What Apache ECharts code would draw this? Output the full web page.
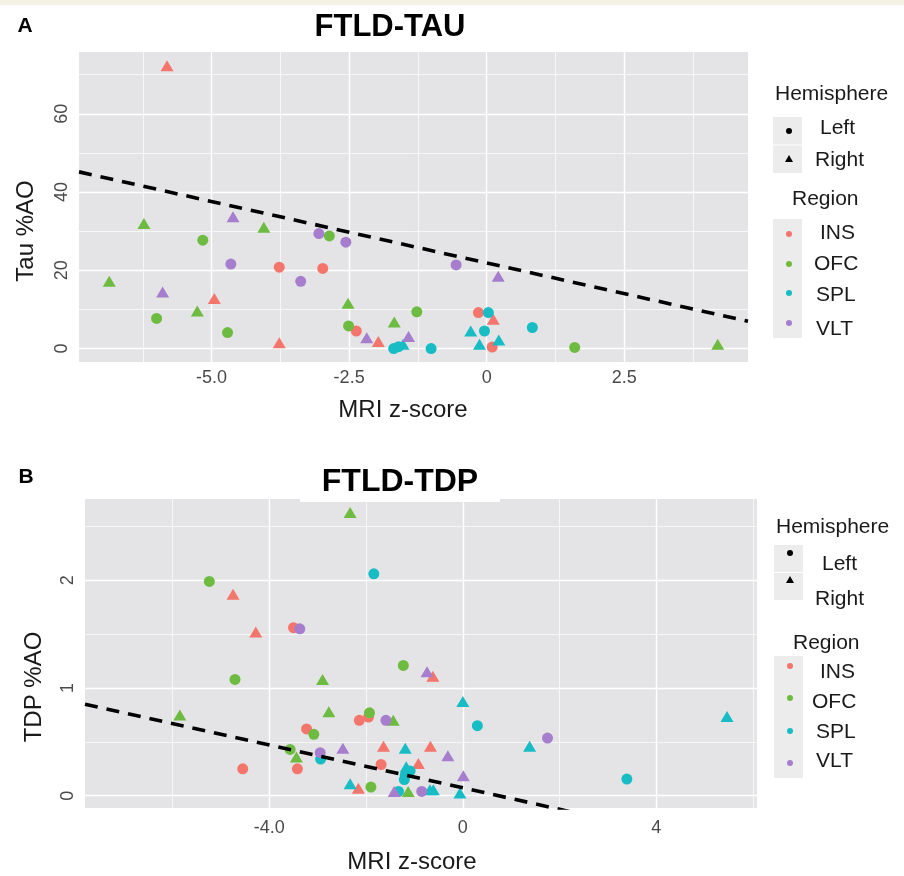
<!DOCTYPE html>
<html>
<head>
<meta charset="utf-8">
<script src="https://cdn.jsdelivr.net/npm/echarts@6/dist/echarts.min.js"></script>
<style>html,body{margin:0;padding:0;background:#fff;}#c{width:904px;height:876px;}</style>
</head>
<body>
<div id="c"></div>
<script>
// ---------------- DATA ----------------
const regions = ['INS', 'OFC', 'SPL', 'VLT'];
const hemispheres = ['Left', 'Right'];
const regionColors = ['#F3756C', '#6EBB41', '#17BCC5', '#A67ECD'];

// Panel A: FTLD-TAU  [MRI z-score, Tau %AO]
const tauINS_L = [[-3.77,20.8],[-2.98,20.5],[-2.37,4.5],[-0.15,9.2],[0.10,0.4]];
const tauINS_R = [[-5.81,72.3],[-4.95,12.8],[-3.77,1.5],[-1.97,1.8],[0.12,7.5]];
const tauOFC_L = [[-5.16,27.7],[-2.86,28.8],[-6.00,7.7],[-4.71,4.1],[-2.51,5.8],[-1.27,9.4],[1.60,0.3]];
const tauOFC_R = [[-6.23,32.0],[-4.05,31.0],[-6.86,17.2],[-5.26,9.6],[-2.52,11.6],[-1.68,6.8],[4.20,1.1]];
const tauSPL_L = [[-1.69,0.0],[-1.60,0.5],[-1.01,0.0],[0.03,9.2],[-0.04,4.5],[0.83,5.4]];
const tauSPL_R = [[-1.52,1.1],[-0.29,4.5],[-0.13,1.1],[0.22,2.2]];
const tauVLT_L = [[-3.05,29.4],[-2.56,27.2],[-4.65,21.6],[-3.38,17.2],[-0.555,21.4]];
const tauVLT_R = [[-4.61,33.7],[-5.89,14.5],[-2.18,2.8],[-1.42,3.1],[0.21,18.5]];
const tauFit = {intercept: 21.9, slope: -3.14};

// Panel B: FTLD-TDP  [MRI z-score, TDP %AO]
const tdpINS_L = [[-3.50,1.56],[-1.95,0.73],[-2.14,0.70],[-3.23,0.62],[-4.55,0.25],[-3.42,0.25],[-1.69,0.29]];
const tdpINS_R = [[-4.75,1.87],[-4.28,1.52],[-0.62,1.11],[-1.64,0.46],[-0.67,0.46],[-0.92,0.30],[-2.16,0.07]];
const tdpOFC_L = [[-5.24,1.99],[-1.23,1.21],[-4.71,1.08],[-1.93,0.77],[-3.08,0.57],[-3.57,0.43],[-1.90,0.08]];
const tdpOFC_R = [[-2.33,2.63],[-2.90,1.08],[-5.85,0.75],[-2.77,0.78],[-1.44,0.70],[-3.44,0.36],[-1.13,0.04]];
const tdpSPL_L = [[-1.84,2.06],[0.30,0.65],[-2.94,0.34],[-1.09,0.23],[-1.19,0.19],[-1.21,0.15],[-1.33,0.04],[3.39,0.155]];
const tdpSPL_R = [[0.00,0.875],[-1.19,0.44],[1.38,0.46],[5.46,0.736],[-2.33,0.11],[-1.17,0.27],[-0.68,0.056],[-0.61,0.056],[-0.06,0.025]];
const tdpVLT_L = [[-3.37,1.55],[-1.59,0.70],[-2.95,0.40],[-0.85,0.04],[1.75,0.535]];
const tdpVLT_R = [[-0.74,1.15],[-2.48,0.44],[-0.31,0.37],[0.01,0.185],[-1.42,0.04]];
const tdpFit = {intercept: 0.073, slope: -0.0995};

// Axis ranges, ticks and tick labels
const tauXRange = [-7.41, 4.75];
const tauYRange = [-3.42, 75.8];
const tauXTicks = [-5, -2.5, 0, 2.5];
const tauXTickLabels = ['-5.0', '-2.5', '0', '2.5'];
const tauXMinor = [-6.25, -3.75, -1.25, 1.25, 3.75];
const tauYTicks = [0, 20, 40, 60];
const tauYTickLabels = ['0', '20', '40', '60'];
const tauYMinor = [10, 30, 50, 70];

const tdpXRange = [-7.81, 6.08];
const tdpYRange = [-0.114, 2.755];
const tdpXTicks = [-4, 0, 4];
const tdpXTickLabels = ['-4.0', '0', '4'];
const tdpXMinor = [-6, -2, 2, 6];
const tdpYTicks = [0, 1, 2];
const tdpYTickLabels = ['0', '1', '2'];
const tdpYMinor = [0.5, 1.5, 2.5];

// ---------------- CHART ----------------
const FONT = "'Liberation Sans', Arial, Helvetica, sans-serif";
const PANEL_BG = '#E4E4E6';
const tauSets = {INS: [tauINS_L, tauINS_R], OFC: [tauOFC_L, tauOFC_R], SPL: [tauSPL_L, tauSPL_R], VLT: [tauVLT_L, tauVLT_R]};
const tdpSets = {INS: [tdpINS_L, tdpINS_R], OFC: [tdpOFC_L, tdpOFC_R], SPL: [tdpSPL_L, tdpSPL_R], VLT: [tdpVLT_L, tdpVLT_R]};

function labelFor(ticks, labels) {
  return function (v) {
    for (let i = 0; i < ticks.length; i++) if (Math.abs(ticks[i] - v) < 1e-9) return labels[i];
    return '';
  };
}

function xAxisDef(idx, range, ticks, labels, margin) {
  return {
    type: 'value', gridIndex: idx, min: range[0], max: range[1],
    axisLine: {show: false},
    axisTick: {show: true, customValues: ticks, length: 3, lineStyle: {color: '#999'}},
    axisLabel: {customValues: ticks, formatter: labelFor(ticks, labels), fontFamily: FONT, fontSize: 18, color: '#4a4a4a', margin: margin},
    splitLine: {show: false}
  };
}
function yAxisDef(idx, range, ticks, labels) {
  return {
    type: 'value', gridIndex: idx, min: range[0], max: range[1],
    axisLine: {show: false},
    axisTick: {show: true, customValues: ticks, length: 3, lineStyle: {color: '#999'}},
    axisLabel: {customValues: ticks, formatter: labelFor(ticks, labels), rotate: 90, fontFamily: FONT, fontSize: 18, color: '#4a4a4a', margin: 8},
    splitLine: {show: false}
  };
}

function gridSeries(idx, xMaj, xMin, yMaj, yMin) {
  const d = [];
  xMin.forEach(v => d.push({xAxis: v, lineStyle: {width: 0.7}}));
  yMin.forEach(v => d.push({yAxis: v, lineStyle: {width: 0.7}}));
  xMaj.forEach(v => d.push({xAxis: v, lineStyle: {width: 1.4}}));
  yMaj.forEach(v => d.push({yAxis: v, lineStyle: {width: 1.4}}));
  return {
    type: 'scatter', xAxisIndex: idx, yAxisIndex: idx, data: [], z: 1, silent: true,
    markLine: {z: 1, silent: true, symbol: ['none', 'none'], label: {show: false}, animation: false,
      lineStyle: {color: '#FFFFFF', type: 'solid', opacity: 1}, emphasis: {disabled: true}, data: d}
  };
}

function pointSeries(idx, sets) {
  const out = [];
  regions.forEach((r, ri) => {
    hemispheres.forEach((h, hi) => {
      out.push({
        type: 'scatter', name: r + ' ' + h, xAxisIndex: idx, yAxisIndex: idx, z: 3,
        symbol: hi === 0 ? 'circle' : 'triangle',
        symbolSize: hi === 0 ? 11 : [13, 11],
        itemStyle: {color: regionColors[ri], opacity: 1},
        data: sets[r][hi]
      });
    });
  });
  return out;
}

function fitSeries(idx, fit, xr) {
  return {
    type: 'line', xAxisIndex: idx, yAxisIndex: idx, z: 4, clip: true, silent: true,
    symbol: 'none', animation: false,
    lineStyle: {color: '#000', width: 3.6, type: [13, 9]},
    data: [[xr[0], fit.intercept + fit.slope * xr[0]], [xr[1], fit.intercept + fit.slope * xr[1]]]
  };
}

// Legend graphics (ggplot-style)
function legendGraphics(cfg) {
  const els = [];
  const txt = (t, x, y, align) => ({type: 'text', z: 50, style: {text: t, x: x, y: y, fill: '#1a1a1a', fontFamily: FONT, fontSize: 21, textAlign: align || 'left', textVerticalAlign: 'middle'}});
  els.push(txt('Hemisphere', cfg.hemiTitle[0], cfg.hemiTitle[1]));
  els.push({type: 'rect', z: 40, shape: {x: cfg.keyX, y: cfg.hemiBox[0], width: 29, height: cfg.hemiBox[1] - cfg.hemiBox[0]}, style: {fill: '#ECECEC'}});
  els.push({type: 'line', z: 41, shape: {x1: cfg.keyX, y1: (cfg.hemiBox[0] + cfg.hemiBox[1]) / 2, x2: cfg.keyX + 29, y2: (cfg.hemiBox[0] + cfg.hemiBox[1]) / 2}, style: {stroke: '#fff', lineWidth: 1}});
  els.push({type: 'circle', z: 45, shape: {cx: cfg.keyX + 16, cy: cfg.hemiIcons[0], r: 3}, style: {fill: '#000'}});
  els.push({type: 'polygon', z: 45, shape: {points: [[cfg.keyX + 16, cfg.hemiIcons[1] - 4], [cfg.keyX + 20, cfg.hemiIcons[1] + 3], [cfg.keyX + 12, cfg.hemiIcons[1] + 3]]}, style: {fill: '#000'}});
  els.push(txt(hemispheres[0], cfg.hemiLabels[0][0], cfg.hemiLabels[0][1]));
  els.push(txt(hemispheres[1], cfg.hemiLabels[1][0], cfg.hemiLabels[1][1]));
  els.push(txt('Region', cfg.regTitle[0], cfg.regTitle[1]));
  els.push({type: 'rect', z: 40, shape: {x: cfg.keyX, y: cfg.regBox[0], width: 29, height: cfg.regBox[1] - cfg.regBox[0]}, style: {fill: '#ECECEC'}});
  regions.forEach((r, i) => {
    els.push({type: 'circle', z: 45, shape: {cx: cfg.keyX + 16, cy: cfg.regIcons[i], r: 3}, style: {fill: regionColors[i]}});
    els.push(txt(r, cfg.regLabels[i][0], cfg.regLabels[i][1]));
  });
  return els;
}

function axisTitle(t, x, y, vertical) {
  return {type: 'text', z: 50, x: x, y: y, rotation: vertical ? Math.PI / 2 : 0,
    style: {text: t, x: 0, y: 0, fill: '#1a1a1a', fontFamily: FONT, fontSize: 24, textAlign: 'center', textVerticalAlign: 'middle'}};
}

const graphics = [
  {type: 'rect', z: 0, shape: {x: 0, y: 0, width: 904, height: 5}, style: {fill: '#F4F0E3'}},
  {type: 'text', z: 50, style: {text: 'A', x: 25, y: 26, fill: '#000', fontFamily: FONT, fontWeight: 'bold', fontSize: 21, textAlign: 'center', textVerticalAlign: 'middle'}},
  {type: 'text', z: 50, style: {text: 'FTLD-TAU', x: 390, y: 27, fill: '#000', fontFamily: FONT, fontWeight: 'bold', fontSize: 31, textAlign: 'center', textVerticalAlign: 'middle'}},
  {type: 'text', z: 50, style: {text: 'B', x: 26, y: 477, fill: '#000', fontFamily: FONT, fontWeight: 'bold', fontSize: 21, textAlign: 'center', textVerticalAlign: 'middle'}},
  {type: 'rect', z: 49, shape: {x: 300, y: 490, width: 200, height: 12}, style: {fill: '#fff'}},
  {type: 'text', z: 50, style: {text: 'FTLD-TDP', x: 400, y: 482, fill: '#000', fontFamily: FONT, fontWeight: 'bold', fontSize: 32, textAlign: 'center', textVerticalAlign: 'middle'}},
  axisTitle('MRI z-score', 403, 410, false),
  axisTitle('Tau %AO', 26, 231, true),
  axisTitle('MRI z-score', 412, 862, false),
  axisTitle('TDP %AO', 34, 687, true)
].concat(legendGraphics({
  keyX: 773,
  hemiTitle: [775, 94], hemiBox: [117, 173], hemiIcons: [131, 159],
  hemiLabels: [[820, 128], [815, 160]],
  regTitle: [792, 199], regBox: [219, 338], regIcons: [234, 264, 293, 323],
  regLabels: [[820, 233], [814, 264], [816, 295], [816, 329]]
})).concat(legendGraphics({
  keyX: 774,
  hemiTitle: [776, 527], hemiBox: [545, 600], hemiIcons: [553, 580],
  hemiLabels: [[822, 564], [815, 599]],
  regTitle: [793, 643], regBox: [656, 778], regIcons: [666, 698, 731, 763],
  regLabels: [[820, 672], [812, 702], [816, 732], [816, 761]]
}));

const option = {
  animation: false,
  backgroundColor: '#FFFFFF',
  grid: [
    {left: 79, top: 52, width: 669, height: 310, show: true, backgroundColor: PANEL_BG, borderWidth: 0, containLabel: false},
    {left: 85, top: 499, width: 672, height: 309, show: true, backgroundColor: PANEL_BG, borderWidth: 0, containLabel: false}
  ],
  xAxis: [
    xAxisDef(0, tauXRange, tauXTicks, tauXTickLabels, 7),
    xAxisDef(1, tdpXRange, tdpXTicks, tdpXTickLabels, 11)
  ],
  yAxis: [
    yAxisDef(0, tauYRange, tauYTicks, tauYTickLabels),
    yAxisDef(1, tdpYRange, tdpYTicks, tdpYTickLabels)
  ],
  series: [].concat(
    [gridSeries(0, tauXTicks, tauXMinor, tauYTicks, tauYMinor)],
    pointSeries(0, tauSets),
    [fitSeries(0, tauFit, tauXRange)],
    [gridSeries(1, tdpXTicks, tdpXMinor, tdpYTicks, tdpYMinor)],
    pointSeries(1, tdpSets),
    [fitSeries(1, tdpFit, tdpXRange)]
  ),
  graphic: graphics
};

const chart = echarts.init(document.getElementById('c'), null, {renderer: 'canvas'});
chart.setOption(option);
</script>
</body>
</html>
